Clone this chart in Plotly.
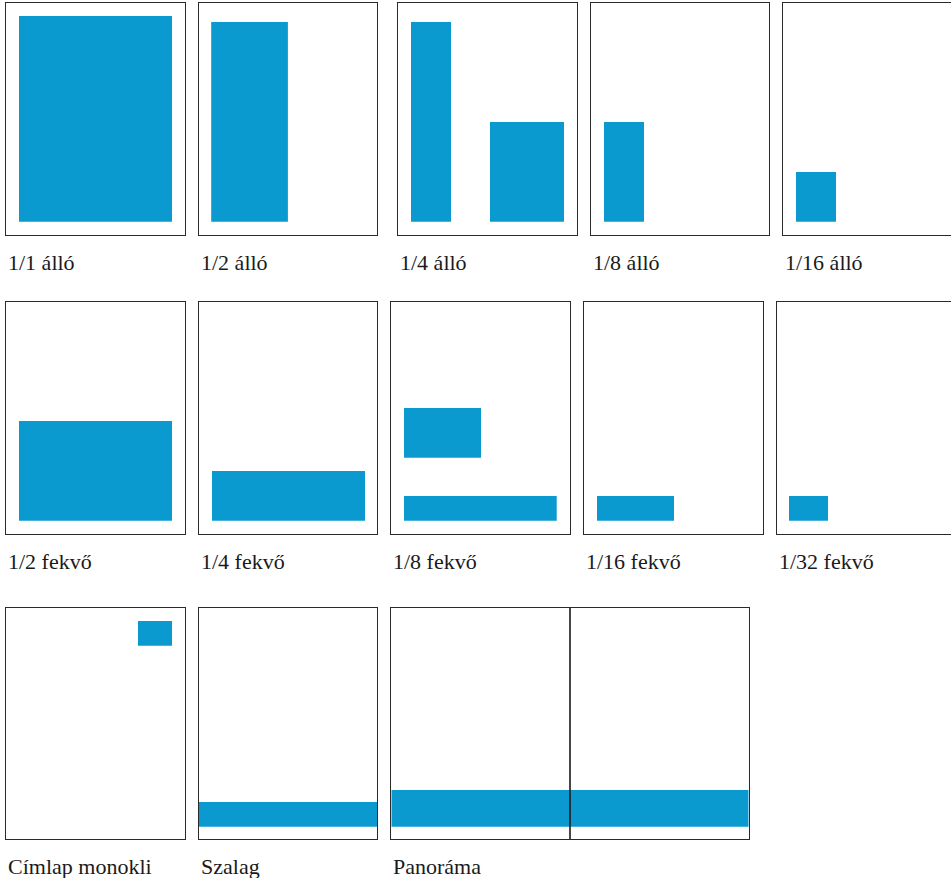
import plotly.graph_objects as go

# ---------------- data (page units, measured from the page's top-left corner) ----------------
labels = ["1/1 álló", "1/2 álló", "1/4 álló", "1/8 álló", "1/16 álló",
          "1/2 fekvő", "1/4 fekvő", "1/8 fekvő", "1/16 fekvő", "1/32 fekvő",
          "Címlap monokli", "Szalag", "Panoráma"]

# number of pages each sample spans
spans = [1, 1, 1, 1, 1, 1, 1, 1, 1, 1, 1, 1, 2]

# ad areas on each sample page: (x0, y0, x1, y1)
ads = [
    [(13.0, 12.7, 166.0, 218.4)],                               # 1/1 álló
    [(12.7, 18.7, 89.4, 218.4)],                                # 1/2 álló
    [(13.0, 18.7, 53.0, 218.4), (92.0, 118.7, 166.0, 218.4)],   # 1/4 álló
    [(13.3, 118.7, 53.3, 218.4)],                               # 1/8 álló
    [(12.7, 168.7, 52.7, 218.4)],                               # 1/16 álló
    [(13.0, 118.7, 166.0, 218.4)],                              # 1/2 fekvő
    [(13.3, 168.7, 166.3, 218.4)],                              # 1/4 fekvő
    [(12.7, 105.7, 89.7, 155.4), (12.7, 193.7, 165.4, 218.4)],  # 1/8 fekvő
    [(13.0, 193.7, 90.0, 218.4)],                               # 1/16 fekvő
    [(12.3, 193.7, 51.3, 218.4)],                               # 1/32 fekvő
    [(132.0, 13.3, 166.0, 38.0)],                               # Címlap monokli
    [(0.0, 194.3, 178.7, 219.0)],                               # Szalag
    [(0.0, 182.3, 357.4, 219.0)],                               # Panoráma
]

# ---------------- layout / style ----------------
FIG_W, FIG_H = 951, 878
PAGE_W, PAGE_H = 178.7, 231.5
ROW_TOP = [3.3, 302.3, 607.7]
COL_LEFT = [[6.0, 198.5, 398.0, 590.7, 783.3],
            [6.0, 198.7, 391.3, 584.0, 776.7],
            [6.0, 198.7, 391.3]]
BLUE = "#0b9ad0"
INK = "#2a2a2a"
FONT = "Liberation Serif"
LABEL_GAP = 13

fig = go.Figure()
annotations = []
idx = 0
for r, lefts in enumerate(COL_LEFT):
    top = ROW_TOP[r]
    for left in lefts:
        n = idx + 1
        xname = "x" if n == 1 else f"x{n}"
        yname = "y" if n == 1 else f"y{n}"
        width = PAGE_W * spans[idx]
        right = min(left + width, FIG_W)
        clipped = left + width > FIG_W

        for (x0, y0, x1, y1) in ads[idx]:
            fig.add_trace(go.Scatter(
                x=[x0, x1, x1, x0, x0], y=[y0, y0, y1, y1, y0],
                mode="lines", fill="toself", fillcolor=BLUE,
                line=dict(width=0, color=BLUE), hoverinfo="skip",
                xaxis=xname, yaxis=yname, showlegend=False))
        if spans[idx] > 1:
            for k in range(1, spans[idx]):
                fig.add_trace(go.Scatter(
                    x=[PAGE_W * k, PAGE_W * k], y=[0, PAGE_H],
                    mode="lines", line=dict(width=1.6, color="#1a1a1a"),
                    hoverinfo="skip", xaxis=xname, yaxis=yname,
                    showlegend=False))

        common = dict(showgrid=False, zeroline=False, showticklabels=False,
                      ticks="", showline=True, linecolor=INK, linewidth=1.2,
                      fixedrange=True)
        xkey = "xaxis" if n == 1 else f"xaxis{n}"
        ykey = "yaxis" if n == 1 else f"yaxis{n}"
        fig.update_layout(**{
            xkey: dict(common, domain=[left / FIG_W, right / FIG_W],
                       range=[0, right - left], anchor=yname, mirror=True),
            ykey: dict(common,
                       domain=[1 - (top + PAGE_H) / FIG_H, 1 - top / FIG_H],
                       range=[PAGE_H, 0], anchor=xname, mirror=not clipped),
        })
        annotations.append(dict(
            text=labels[idx], xref="paper", yref="paper",
            x=left / FIG_W, y=1 - (top + PAGE_H + LABEL_GAP) / FIG_H,
            xanchor="left", yanchor="top", showarrow=False,
            font=dict(family=FONT, size=22, color="#1a1a1a")))
        idx += 1

fig.update_layout(
    width=FIG_W, height=FIG_H,
    margin=dict(l=0, r=0, t=0, b=0),
    paper_bgcolor="white", plot_bgcolor="white",
    showlegend=False, annotations=annotations,
)

fig.write_html(
    "out.html",
    config={"displayModeBar": False},
    post_script="document.body.style.margin='0';document.body.style.padding='0';"
                "document.body.style.overflow='hidden';",
)
